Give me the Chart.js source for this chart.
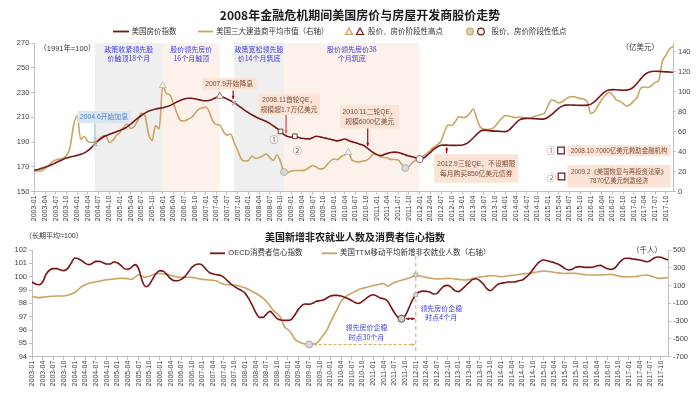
<!DOCTYPE html>
<html lang="zh-CN">
<head>
<meta charset="utf-8">
<title>2008年金融危机期间美国房价与房屋开发商股价走势</title>
<script src="https://cdn.jsdelivr.net/npm/chart.js@4.4.1/dist/chart.umd.min.js"></script>
<style>
  html, body { margin: 0; padding: 0; background: #fff; }
  #wrap { position: relative; width: 700px; height: 395px; overflow: hidden; }
  canvas { position: absolute; left: 0; }
  #topChart { top: 0; }
  #bottomChart { top: 228px; }
</style>
</head>
<body>
<div id="wrap">
  <canvas id="topChart" width="700" height="228"></canvas>
  <canvas id="bottomChart" width="700" height="167"></canvas>
</div>
<script>
/**
 * 2008 crisis dashboard - house prices vs builder stocks, payrolls vs confidence
 * Two stacked Chart.js line charts sharing the same monthly axis (2003-01 .. 2017-12)
 */

// ===== CATEGORIES =====
const months = [];
for (let yr = 2003; yr <= 2017; yr++) {
    for (let mo = 1; mo <= 12; mo++) months.push(`${yr}-${String(mo).padStart(2, '0')}`);
}

// ===== TOP CHART DATA =====
// 美国房价指数 (1991年=100), one row per year
const housePriceIndex = [
    167.0, 167.8, 168.7, 169.6, 170.6, 171.8, 173.2, 174.6, 175.9, 177.0, 177.8, 178.5,
    179.2, 180.0, 181.2, 183.0, 185.5, 188.5, 191.2, 193.4, 195.0, 196.2, 197.3, 198.3,
    199.3, 200.5, 202.2, 204.4, 206.8, 209.2, 211.4, 213.3, 214.8, 215.9, 216.6, 217.2,
    217.7, 218.4, 219.4, 220.8, 222.4, 223.8, 224.8, 225.3, 225.3, 224.9, 224.2, 223.6,
    223.3, 223.6, 224.6, 226.0, 227.0, 226.2, 224.8, 223.3, 221.6, 219.8, 217.7, 215.6,
    213.7, 212.0, 210.4, 209.0, 207.8, 206.6, 205.0, 203.0, 201.0, 198.5, 196.0, 194.5,
    194.0, 194.6, 193.8, 193.0, 192.6, 192.5, 193.5, 194.6, 194.2, 193.4, 192.9, 192.3,
    191.5, 190.9, 191.6, 192.4, 191.3, 190.3, 189.4, 188.4, 187.5, 185.8, 183.6, 181.5,
    179.8, 179.0, 179.8, 180.8, 181.5, 181.8, 181.5, 180.6, 179.6, 178.7, 178.0, 177.0,
    176.2, 176.8, 179.0, 181.6, 184.2, 186.2, 187.3, 187.5, 187.4, 187.3, 187.3, 187.4,
    187.6, 188.6, 190.6, 193.2, 196.2, 198.7, 199.6, 199.4, 199.0, 198.8, 198.7, 198.5,
    198.4, 199.6, 202.4, 205.5, 207.9, 208.9, 209.1, 209.0, 208.9, 208.7, 208.5, 208.7,
    210.0, 212.2, 214.8, 217.3, 219.0, 219.8, 219.9, 219.8, 219.7, 219.6, 219.6, 219.8,
    220.6, 222.6, 225.4, 228.3, 230.7, 232.0, 232.3, 232.2, 232.0, 231.8, 231.9, 232.6,
    234.5, 237.6, 241.2, 244.3, 246.2, 247.0, 247.2, 247.1, 246.9, 246.7, 246.6, 246.3
];

// 美国三大建造商平均市值 (亿美元, right axis)
const builderMarketCap = [
    21.5, 20.5, 20.8, 23.0, 26.0, 29.5, 31.5, 32.3, 33.0, 36.0, 44.0, 66.0,
    76.0, 52.0, 55.0, 50.0, 49.0, 50.0, 52.0, 55.0, 56.0, 49.0, 51.0, 56.0,
    59.0, 64.0, 67.5, 63.0, 65.0, 71.0, 78.5, 76.0, 58.0, 51.0, 66.0, 62.5,
    106.0, 98.0, 96.5, 88.0, 78.0, 71.0, 70.5, 72.0, 74.0, 78.0, 82.0, 83.5,
    84.5, 80.0, 70.5, 67.0, 66.5, 60.0, 56.5, 57.5, 49.0, 41.0, 32.5, 30.5,
    31.0, 35.5, 33.0, 34.0, 35.5, 37.5, 34.0, 31.0, 36.5, 30.0, 19.5, 19.0,
    20.5, 21.0, 21.0, 21.0, 21.5, 24.0, 26.0, 24.5, 22.5, 23.0, 26.5, 30.5,
    32.5, 32.0, 35.0, 36.5, 39.0, 31.5, 30.0, 29.5, 30.5, 31.0, 33.5, 37.5,
    37.0, 35.0, 34.0, 33.5, 32.0, 32.0, 31.5, 27.0, 23.5, 25.0, 29.0, 31.5,
    33.0, 35.5, 38.0, 41.5, 44.5, 47.0, 50.5, 60.0, 66.5, 66.0, 70.0, 75.0,
    74.0, 74.5, 78.0, 82.5, 73.0, 64.5, 62.5, 62.0, 62.5, 64.5, 69.0, 73.0,
    76.0, 75.5, 74.5, 74.0, 74.5, 74.0, 73.5, 73.5, 75.0, 76.0, 77.0, 78.5,
    86.0, 91.5, 90.5, 88.5, 90.0, 92.5, 94.5, 95.0, 94.0, 93.0, 92.5, 89.5,
    78.0, 80.0, 86.0, 91.5, 96.0, 99.0, 97.0, 92.0, 90.5, 88.0, 85.5, 87.0,
    90.5, 94.5, 103.5, 104.5, 104.0, 106.0, 109.0, 111.0, 130.0, 136.0, 142.5, 145.0
];

const housePriceTicks = [150, 170, 190, 210, 230, 250, 270];
const marketCapTicks = [0, 20, 40, 60, 80, 100, 120, 140];

// shaded phases
const policyLeadPeriods = [['2004-06', '2006-01'], ['2007-09', '2008-11']];
const policyLeadNotes = [['政策收紧领先股', '价触顶18个月'], ['政策宽松领先股', '价14个月筑底']];
const stockLeadPeriods = [['2006-01', '2007-05'], ['2008-11', '2012-01']];
const stockLeadNotes = [['股价领先房价', '16个月触顶'], ['股价领先房价38', '个月筑底']];

// turning points
const stockPeakMonths = ['2006-01', '2010-05'];
const stockTroughMonths = ['2008-11', '2011-09'];
const housePeakMonths = ['2007-05'];
const houseTroughMonths = ['2012-01'];
const rateTurnMonths = ['2004-06', '2007-09'];
const rescueMonths = ['2008-10', '2009-02'];
const qeMonths = ['2008-11', '2010-11', '2012-09'];

const rateNotes = [['2004.6开始加息'], ['2007.9开始降息']];
const qeNotes = [
    ['2008.11首轮QE，', '规模超1.7万亿美元'],
    ['2010.11二轮QE，', '规模6000亿美元'],
    ['2012.9三轮QE，不设期限', '每月购买850亿美元债券']
];
const rescueNotes = [['2008.10 7000亿美元救助金融机构'], ['2009.2《美国恢复与再投资法案》', '7870亿美元刺激经济']];

// ===== BOTTOM CHART DATA =====
// OECD消费者信心指数 (长期平均=100)
const oecdConfidence = [
    99.6, 99.45, 99.4, 99.6, 100.2, 100.5, 100.6, 100.6, 100.5, 100.45, 100.6, 101.0,
    101.4, 101.35, 101.2, 101.0, 100.9, 101.0, 101.15, 101.15, 101.05, 100.95, 100.95, 101.1,
    101.05, 100.85, 100.6, 100.55, 100.7, 100.9, 100.6, 99.7, 99.25, 99.4, 99.85, 100.25,
    100.45, 100.4, 100.15, 99.85, 99.7, 99.7, 99.8, 100.0, 100.35, 100.7, 100.9, 100.95,
    100.85, 100.55, 100.3, 100.2, 100.15, 100.1, 99.95, 99.7, 99.45, 99.25, 99.1, 98.95,
    98.75, 98.35, 97.85, 97.3, 96.95, 96.95, 97.2, 97.4, 97.15, 96.85, 96.75, 96.72,
    96.72, 96.8, 97.15, 97.55, 97.85, 97.95, 97.93, 98.0, 98.15, 98.2, 98.25, 98.4,
    98.55, 98.6, 98.6, 98.55, 98.45, 98.35, 98.2, 98.05, 98.0, 98.15, 98.35, 98.55,
    98.65, 98.55, 98.4, 98.35, 98.2, 97.75, 97.3, 96.95, 96.85, 97.05, 97.6, 98.2,
    98.65, 98.85, 98.92, 98.9, 98.85, 98.7, 98.75, 99.05, 99.3, 99.35, 99.2, 98.95,
    98.88, 99.05, 99.3, 99.55, 99.8, 99.85, 99.7, 99.45, 99.1, 98.95, 99.15, 99.4,
    99.5, 99.55, 99.6, 99.6, 99.62, 99.7, 99.75, 99.95, 100.2, 100.55, 100.9, 101.15,
    101.25, 101.2, 101.12, 101.05, 100.95, 100.8, 100.6, 100.5, 100.55, 100.7, 100.75, 100.72,
    100.7, 100.7, 100.72, 100.82, 100.85, 100.7, 100.6, 100.55, 100.65, 100.95, 101.25, 101.38,
    101.38, 101.33, 101.3, 101.25, 101.2, 101.12, 101.2, 101.38, 101.48, 101.45, 101.35, 101.25
];

// 美国TTM移动平均新增非农就业人数 (千人, right axis)
const nonfarmTTM = [
    -18, -30, -36, -30, -25, -22, -20, -18, -17, -17, -10, 5,
    22, 55, 88, 110, 125, 135, 143, 150, 158, 165, 170, 175,
    178, 181, 181, 176, 170, 195, 219, 205, 193, 205, 222, 237,
    235, 230, 226, 215, 205, 195, 192, 193, 193, 192, 185, 176,
    170, 166, 162, 159, 150, 130, 114, 110, 108, 107, 98, 85,
    76, 55, 32, 13, -12, -42, -80, -130, -185, -215, -260, -360,
    -395, -437, -505, -530, -550, -560, -562, -558, -550, -510, -456, -400,
    -310, -235, -155, -75, -35, -5, 15, 35, 55, 69, 78, 90,
    100, 108, 118, 124, 92, 112, 135, 148, 160, 170, 181, 200,
    219, 210, 200, 192, 185, 178, 174, 176, 178, 181, 180, 175,
    170, 165, 162, 168, 178, 188, 196, 200, 206, 212, 210, 205,
    200, 204, 210, 215, 219, 225, 230, 234, 237, 245, 252, 260,
    264, 260, 256, 250, 243, 238, 236, 237, 238, 237, 232, 226,
    222, 219, 218, 219, 219, 221, 224, 226, 218, 208, 200, 198,
    200, 200, 202, 210, 216, 219, 210, 196, 184, 181, 186, 189
];

const confidenceTicks = [94, 95, 96, 97, 98, 99, 100, 101, 102];
const payrollTicks = [-700, -500, -300, -100, 100, 300, 500];

const payrollTroughMonth = '2009-07';
const confidenceTroughMonth = '2011-09';
const houseBottomMonth = '2012-01';
const leadNotes = [['领先房价企稳', '时点30个月'], ['领先房价企稳', '时点4个月']];

// ===== STYLE =====
const DARK_RED = '#7b1416';
const GOLD = '#c9a463';
const AXIS_GRAY = '#bfbfbf';
const TEXT_GRAY = '#404040';
const NOTE_BLUE = '#3a3ae6';
const NOTE_FILL = '#fbe4d5';
const NOTE_TEXT = '#7f4a33';
const ARROW_RED = '#c00000';
const SHADE_GRAY = '#efefef';
const SHADE_PINK = '#fdf2eb';
const FONT = '"Liberation Sans", "Noto Sans CJK SC", sans-serif';
const CJK = '"Noto Sans CJK SC", "Liberation Sans", sans-serif';

Chart.defaults.font.family = FONT;
Chart.defaults.color = TEXT_GRAY;

// ===== HELPERS =====

/**
 * Keep only the values whose month is listed (used for marker datasets)
 * @param {number[]} series - full series
 * @param {string[]} picks - months to keep
 * @returns {Array<number|null>}
 */
function pick(series, picks) {
    return series.map((v, i) => (picks.includes(months[i]) ? v : null));
}

/**
 * Marker-only dataset drawn through the chart scales
 */
function markerSet(series, picks, axis, style) {
    return Object.assign({
        data: pick(series, picks),
        yAxisID: axis,
        showLine: false,
        order: 0,
        pointRadius: 3.5,
        pointBorderWidth: 1
    }, style);
}

function lineSet(label, series, axis, color, order) {
    return {
        label, data: series, yAxisID: axis, order,
        borderColor: color, borderWidth: 1.6, pointRadius: 0,
        cubicInterpolationMode: 'monotone', spanGaps: true
    };
}

function xAxis(height) {
    return {
        type: 'category',
        grid: { display: true, drawOnChartArea: false, tickLength: 3, color: AXIS_GRAY },
        border: { display: true, color: AXIS_GRAY },
        ticks: { autoSkip: false, minRotation: 90, maxRotation: 90, padding: 1, font: { size: 7 }, color: TEXT_GRAY },
        // quarterly labels only
        afterBuildTicks: s => { s.ticks = s.ticks.filter(t => t.value % 3 === 0); },
        afterFit: s => { s.height = height; }
    };
}

function yAxis(position, min, max, tickValues, width) {
    return {
        type: 'linear', position, min, max,
        grid: { drawOnChartArea: false, tickLength: 3, color: AXIS_GRAY },
        border: { display: true, color: AXIS_GRAY },
        ticks: { padding: 2, font: { size: 7.5 }, color: TEXT_GRAY },
        afterBuildTicks: s => { s.ticks = tickValues.map(value => ({ value })); },
        afterFit: s => { s.width = width; }
    };
}

function txt(ctx, s, x, y, opts = {}) {
    const { size = 7, color = TEXT_GRAY, align = 'center', bold = false, font = FONT } = opts;
    ctx.save();
    ctx.font = `${bold ? 'bold ' : ''}${size}px ${font}`;
    ctx.fillStyle = color;
    ctx.textAlign = align;
    ctx.textBaseline = 'middle';
    ctx.fillText(s, x, y);
    ctx.restore();
}

/**
 * Filled note box with centred lines of text
 * @returns {{x:number,y:number,w:number,h:number}}
 */
function noteBox(ctx, lines, cx, top, fill, color, opts = {}) {
    const { size = 6.8, lineH = 9.3, padX = 2.5, padY = 1.5, w: fixedW } = opts;
    ctx.save();
    ctx.font = `${size}px ${FONT}`;
    const w = fixedW || Math.max(...lines.map(l => ctx.measureText(l).width)) + padX * 2;
    const h = lines.length * lineH + padY * 2;
    ctx.fillStyle = fill;
    ctx.fillRect(cx - w / 2, top, w, h);
    ctx.restore();
    lines.forEach((l, i) => txt(ctx, l, cx, top + padY + lineH * (i + 0.5) + 0.5, { color, size }));
    return { x: cx - w / 2, y: top, w, h };
}

function arrow(ctx, x1, y1, x2, y2, color, opts = {}) {
    const { width = 1, dash = [], head = 4, both = false } = opts;
    ctx.save();
    ctx.strokeStyle = color;
    ctx.fillStyle = color;
    ctx.lineWidth = width;
    ctx.setLineDash(dash);
    ctx.beginPath();
    ctx.moveTo(x1, y1);
    ctx.lineTo(x2, y2);
    ctx.stroke();
    ctx.setLineDash([]);
    const tip = (tx, ty, fx, fy) => {
        const ang = Math.atan2(ty - fy, tx - fx);
        ctx.beginPath();
        ctx.moveTo(tx, ty);
        ctx.lineTo(tx - head * Math.cos(ang - 0.45), ty - head * Math.sin(ang - 0.45));
        ctx.lineTo(tx - head * Math.cos(ang + 0.45), ty - head * Math.sin(ang + 0.45));
        ctx.closePath();
        ctx.fill();
    };
    tip(x2, y2, x1, y1);
    if (both) tip(x1, y1, x2, y2);
    ctx.restore();
}

function legendLine(ctx, x1, x2, y, color) {
    ctx.save();
    ctx.strokeStyle = color;
    ctx.lineWidth = 1.8;
    ctx.beginPath();
    ctx.moveTo(x1, y);
    ctx.lineTo(x2, y);
    ctx.stroke();
    ctx.restore();
}

function legendShape(ctx, shape, x, y, stroke, fill) {
    ctx.save();
    ctx.strokeStyle = stroke;
    ctx.fillStyle = fill;
    ctx.lineWidth = 1.2;
    ctx.beginPath();
    if (shape === 'triangle') {
        ctx.moveTo(x, y - 3.5);
        ctx.lineTo(x + 3.5, y + 3);
        ctx.lineTo(x - 3.5, y + 3);
        ctx.closePath();
    } else if (shape === 'rect') {
        ctx.rect(x - 3.3, y - 3.3, 6.6, 6.6);
    } else {
        ctx.arc(x, y, 3.3, 0, Math.PI * 2);
    }
    ctx.fill();
    ctx.stroke();
    ctx.restore();
}

// ===== TOP CHART DECORATION =====
const topDecor = {
    id: 'topDecor',
    beforeDraw(chart) {
        const { ctx, chartArea: a, scales: { x } } = chart;
        const at = m => x.getPixelForValue(months.indexOf(m));
        ctx.save();
        ctx.fillStyle = '#fff';
        ctx.fillRect(0, 0, chart.width, chart.height);
        const phase = (periods, notes, color) => periods.forEach((p, i) => {
            const x1 = at(p[0]), x2 = at(p[1]);
            ctx.fillStyle = color;
            ctx.fillRect(x1, a.top, x2 - x1, a.bottom - a.top);
            notes[i].forEach((l, j) => txt(ctx, l, (x1 + x2) / 2, a.top + 6 + j * 9.5, { color: NOTE_BLUE, font: CJK }));
        });
        phase(policyLeadPeriods, policyLeadNotes, SHADE_GRAY);
        phase(stockLeadPeriods, stockLeadNotes, SHADE_PINK);
        ctx.restore();
    },
    afterDatasetsDraw(chart) {
        const { ctx, chartArea: a, scales: { x, y } } = chart;
        const at = m => x.getPixelForValue(months.indexOf(m));
        const hpi = m => y.getPixelForValue(housePriceIndex[months.indexOf(m)]);

        // rate hikes / cuts
        let px = at(rateTurnMonths[0]), py = hpi(rateTurnMonths[0]);
        let b = noteBox(ctx, rateNotes[0], px + 9, py - 33, '#dce6f2', '#4f7fbf');
        arrow(ctx, px, b.y + b.h, px, py - 3, '#9dc3e6', { width: 1.2, head: 3.5 });
        px = at(rateTurnMonths[1]); py = hpi(rateTurnMonths[1]);
        b = noteBox(ctx, rateNotes[1], px - 5, py - 25, NOTE_FILL, NOTE_TEXT, { padX: 3.5, padY: 1.2 });
        arrow(ctx, px - 1, b.y + b.h + 1, px - 1, py - 4, ARROW_RED, { width: 1.2, head: 3.5 });

        // QE rounds
        px = at(qeMonths[0]); py = hpi(qeMonths[0]);
        b = noteBox(ctx, qeNotes[0], px + 5, py - 40.5, NOTE_FILL, NOTE_TEXT, { padY: 1.2 });
        arrow(ctx, px + 2, b.y + b.h, px + 2, py - 1, '#e06666', { width: 1.5, head: 4 });
        px = at(qeMonths[1]); py = hpi(qeMonths[1]);
        b = noteBox(ctx, qeNotes[1], px, py - 45, NOTE_FILL, NOTE_TEXT, { padY: 2.5 });
        arrow(ctx, px - 2, b.y + b.h, px - 2, py - 4, ARROW_RED, { width: 1.2, head: 3.5 });
        px = at(qeMonths[2]); py = hpi(qeMonths[2]);
        b = noteBox(ctx, qeNotes[2], px + 28, py + 9, NOTE_FILL, NOTE_TEXT, { padY: 5, padX: 3 });
        arrow(ctx, px - 1.5, b.y - 1, px - 1.5, py + 2, ARROW_RED, { width: 1.2, head: 3.5 });

        // numbered rescue packages
        const numColor = '#8c7070';
        txt(ctx, '①', at(rescueMonths[0]) - 6.5, hpi(rescueMonths[0]) + 8, { size: 9, color: numColor, font: CJK });
        txt(ctx, '②', at(rescueMonths[1]) + 2.5, hpi(rescueMonths[1]) + 14, { size: 9, color: numColor, font: CJK });
        const rx = a.right - 54;
        txt(ctx, '①', rx - 68, 150.5, { size: 9, color: numColor, font: CJK });
        legendShape(ctx, 'rect', rx - 58, 150.5, DARK_RED, '#fff');
        noteBox(ctx, rescueNotes[0], rx, 145, NOTE_FILL, NOTE_TEXT, { size: 6.4, w: 103, padY: 1 });
        txt(ctx, '②', rx - 67.5, 177.5, { size: 9, color: numColor, font: CJK });
        legendShape(ctx, 'rect', rx - 57.5, 176.5, DARK_RED, '#fff');
        noteBox(ctx, rescueNotes[1], rx, 165, NOTE_FILL, NOTE_TEXT, { size: 6.4, w: 103, padY: 2 });

        // unit labels
        txt(ctx, '（1991年=100）', a.left + 5, a.top + 5.5, { align: 'left', size: 7.5, color: '#333' });
        txt(ctx, '（亿美元）', a.right - 14, a.top + 5, { align: 'right', size: 7.5, color: '#333' });
    },
    afterDraw(chart) {
        const { ctx } = chart;
        txt(ctx, '2008年金融危机期间美国房价与房屋开发商股价走势', 360, 15, { size: 12, bold: true, color: '#1a1a1a', font: CJK });
        const ly = 31.5;
        legendLine(ctx, 113, 129, ly, DARK_RED);
        txt(ctx, '美国房价指数', 131.5, ly, { align: 'left', size: 7.5, color: '#333', font: CJK });
        legendLine(ctx, 198, 213, ly, GOLD);
        txt(ctx, '美国三大建造商平均市值（右轴）', 216, ly, { align: 'left', size: 7.5, color: '#333', font: CJK });
        legendShape(ctx, 'triangle', 349, ly, GOLD, '#f5ecd9');
        legendShape(ctx, 'triangle', 360, ly, DARK_RED, '#fff');
        txt(ctx, '股价、房价阶段性高点', 368, ly, { align: 'left', size: 7.5, color: '#333', font: CJK });
        legendShape(ctx, 'circle', 470, ly, GOLD, '#d9d0bf');
        legendShape(ctx, 'circle', 481, ly, DARK_RED, '#fff');
        txt(ctx, '股价、房价阶段性低点', 491.5, ly, { align: 'left', size: 7.5, color: '#333', font: CJK });
    }
};

// ===== BOTTOM CHART DECORATION =====
const bottomDecor = {
    id: 'bottomDecor',
    beforeDraw(chart) {
        const { ctx } = chart;
        ctx.save();
        ctx.fillStyle = '#fff';
        ctx.fillRect(0, 0, chart.width, chart.height);
        ctx.restore();
    },
    beforeDatasetsDraw(chart) {
        const { ctx, chartArea: a, scales: { x } } = chart;
        const xb = x.getPixelForValue(months.indexOf(houseBottomMonth));
        ctx.save();
        ctx.strokeStyle = '#f4b183';
        ctx.lineWidth = 1.3;
        ctx.setLineDash([4, 3]);
        ctx.beginPath();
        ctx.moveTo(xb, a.top + 6);
        ctx.lineTo(xb, a.bottom - 3);
        ctx.stroke();
        ctx.restore();
    },
    afterDatasetsDraw(chart) {
        const { ctx, chartArea: a, scales: { x, y, y1 } } = chart;
        const at = m => x.getPixelForValue(months.indexOf(m));
        const xb = at(houseBottomMonth);

        const xp = at(payrollTroughMonth);
        const yp = y1.getPixelForValue(nonfarmTTM[months.indexOf(payrollTroughMonth)]);
        arrow(ctx, xp + 4.5, yp, xb - 1, yp, '#d4ae68', { width: 1.1, dash: [3, 2], head: 3.5, both: true });
        leadNotes[0].forEach((l, j) => txt(ctx, l, (xp + xb) / 2 + 4, yp - 17.5 + j * 10, { color: NOTE_BLUE, font: CJK }));

        const xc = at(confidenceTroughMonth);
        const yc = y.getPixelForValue(oecdConfidence[months.indexOf(confidenceTroughMonth)]);
        arrow(ctx, xc + 4.5, yc, xb - 1, yc, DARK_RED, { width: 1.2, head: 3.5, both: true });
        leadNotes[1].forEach((l, j) => txt(ctx, l, xb + 25.5, yc - 10.5 + j * 9, { color: NOTE_BLUE, font: CJK }));

        txt(ctx, '（千人）', a.right - 6, a.top + 1, { align: 'right', size: 7.5, color: '#333' });
    },
    afterDraw(chart) {
        const { ctx } = chart;
        txt(ctx, '美国新增非农就业人数及消费者信心指数', 355, 9.7, { size: 10, bold: true, color: '#1a1a1a', font: CJK });
        txt(ctx, '（长期平均=100）', 25, 7.7, { align: 'left', size: 7, color: '#333' });
        const ly = 25.3;
        legendLine(ctx, 210, 225, ly, DARK_RED);
        txt(ctx, 'OECD消费者信心指数', 228.3, ly, { align: 'left', size: 7.5, color: '#333' });
        legendLine(ctx, 321.7, 337, ly, GOLD);
        txt(ctx, '美国TTM移动平均新增非农就业人数（右轴）', 340, ly, { align: 'left', size: 7.5, color: '#333' });
    }
};

// ===== CHARTS =====
const topChart = new Chart(document.getElementById('topChart'), {
    type: 'line',
    data: {
        labels: months,
        datasets: [
            markerSet(builderMarketCap, stockPeakMonths, 'y1', { pointStyle: 'triangle', pointRadius: 4, pointBackgroundColor: '#f2f2f2', pointBorderColor: '#bfbfbf' }),
            markerSet(builderMarketCap, stockTroughMonths, 'y1', { pointStyle: 'circle', pointBackgroundColor: '#d9d9d9', pointBorderColor: '#b0b0b0' }),
            markerSet(housePriceIndex, housePeakMonths, 'y', { pointStyle: 'triangle', pointRadius: 4, pointBackgroundColor: '#fff', pointBorderColor: '#8c7a7a' }),
            markerSet(housePriceIndex, houseTroughMonths, 'y', { pointStyle: 'circle', pointBackgroundColor: '#fff', pointBorderColor: '#8c5a5a' }),
            markerSet(housePriceIndex, rateTurnMonths, 'y', { pointStyle: 'crossRot', pointRadius: 3, pointBorderColor: '#a6a6a6', pointBorderWidth: 1.2 }),
            markerSet(housePriceIndex, rescueMonths, 'y', { pointStyle: 'rect', pointRadius: 3.3, pointBackgroundColor: '#fff', pointBorderColor: '#6b3a3a' }),
            lineSet('美国房价指数', housePriceIndex, 'y', DARK_RED, 1),
            lineSet('美国三大建造商平均市值（右轴）', builderMarketCap, 'y1', GOLD, 2)
        ]
    },
    options: {
        responsive: false,
        animation: false,
        devicePixelRatio: 1,
        events: [],
        layout: { padding: { top: 43, left: 0, right: 0, bottom: 0 } },
        plugins: { legend: { display: false }, title: { display: false }, tooltip: { enabled: false } },
        scales: {
            x: xAxis(36.5),
            y: yAxis('left', 150, 270, housePriceTicks, 34.3),
            y1: yAxis('right', 0, 148.5, marketCapTicks, 27)
        }
    },
    plugins: [topDecor]
});

const bottomChart = new Chart(document.getElementById('bottomChart'), {
    type: 'line',
    data: {
        labels: months,
        datasets: [
            markerSet(nonfarmTTM, [payrollTroughMonth], 'y1', { pointStyle: 'circle', pointBackgroundColor: '#d9d9d9', pointBorderColor: '#a6a6a6' }),
            markerSet(oecdConfidence, [confidenceTroughMonth], 'y', { pointStyle: 'circle', pointBackgroundColor: '#d0d0d0', pointBorderColor: '#6b4a4a' }),
            markerSet(nonfarmTTM, [houseBottomMonth], 'y1', { pointStyle: 'rect', pointRadius: 2.5, pointBackgroundColor: '#e0e0e0', pointBorderColor: '#a6a6a6' }),
            markerSet(oecdConfidence, [houseBottomMonth], 'y', { pointStyle: 'rect', pointRadius: 2.5, pointBackgroundColor: '#e0e0e0', pointBorderColor: '#a6a6a6' }),
            lineSet('OECD消费者信心指数', oecdConfidence, 'y', DARK_RED, 1),
            lineSet('美国TTM移动平均新增非农就业人数（右轴）', nonfarmTTM, 'y1', GOLD, 2)
        ]
    },
    options: {
        responsive: false,
        animation: false,
        devicePixelRatio: 1,
        events: [],
        layout: { padding: { top: 22, left: 0, right: 0, bottom: 0 } },
        plugins: { legend: { display: false }, title: { display: false }, tooltip: { enabled: false } },
        scales: {
            x: xAxis(38.3),
            y: yAxis('left', 94, 102, confidenceTicks, 32),
            y1: yAxis('right', -700, 500, payrollTicks, 32)
        }
    },
    plugins: [bottomDecor]
});

console.log('✅ Charts ready', topChart.chartArea, bottomChart.chartArea);
</script>
</body>
</html>
